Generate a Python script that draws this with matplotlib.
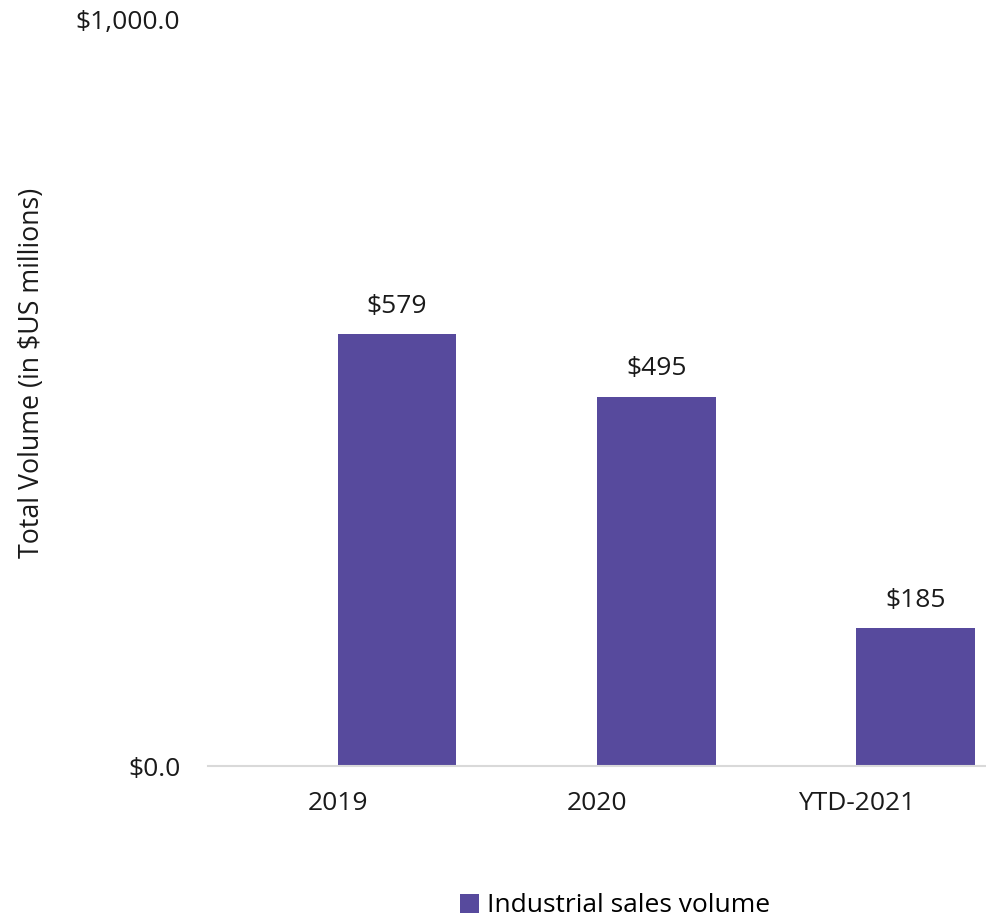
import matplotlib.pyplot as plt
import numpy as np

plt.rcParams['font.family'] = ['Open Sans', 'DejaVu Sans']

categories = ['2019', '2020', 'YTD-2021']
sales_volume = [579, 495, 185]
value_labels = ['$579', '$495', '$185']

bar_color = '#574A9D'
text_color = '#1a1a1a'

fig = plt.figure(figsize=(9.86, 9.18), dpi=100)
ax = fig.add_axes([208 / 986, 1 - 766 / 918, 778 / 986, 746 / 918])

x = np.arange(len(categories))
bars = ax.bar(x, sales_volume, width=0.458, align='edge', color=bar_color,
              label='Industrial sales volume')

for b, lab in zip(bars, value_labels):
    ax.annotate(lab, (b.get_x() + b.get_width() / 2, b.get_height()),
                xytext=(0, 11), textcoords='offset points',
                ha='center', va='bottom', fontsize=19, color=text_color)

ax.set_xlim(-0.5, len(categories) - 0.5)
ax.set_ylim(0, 1000)
ax.set_xticks(x)
ax.set_xticklabels(categories, fontsize=19, color=text_color)
ax.set_yticks([0, 1000])
ax.set_yticklabels(['$0.0', '$1,000.0'], fontsize=19, color=text_color)
ax.tick_params(axis='both', length=0)
ax.tick_params(axis='x', pad=18)
ax.tick_params(axis='y', pad=20)

for s in ['top', 'right', 'left']:
    ax.spines[s].set_visible(False)
ax.spines['bottom'].set_color('#d9d9d9')
ax.spines['bottom'].set_linewidth(1.5)

ax.set_ylabel('Total Volume (in $US millions)', fontsize=19.3, color=text_color)
ax.yaxis.set_label_coords(-0.208, 0.527)

fig.legend(handles=[bars], labels=['Industrial sales volume'], loc='center',
           bbox_to_anchor=(615 / 986, 1 - 906 / 918), frameon=False,
           fontsize=19, handlelength=0.7, handleheight=0.7, handletextpad=0.3)

fig.savefig('out.png', dpi=100)
